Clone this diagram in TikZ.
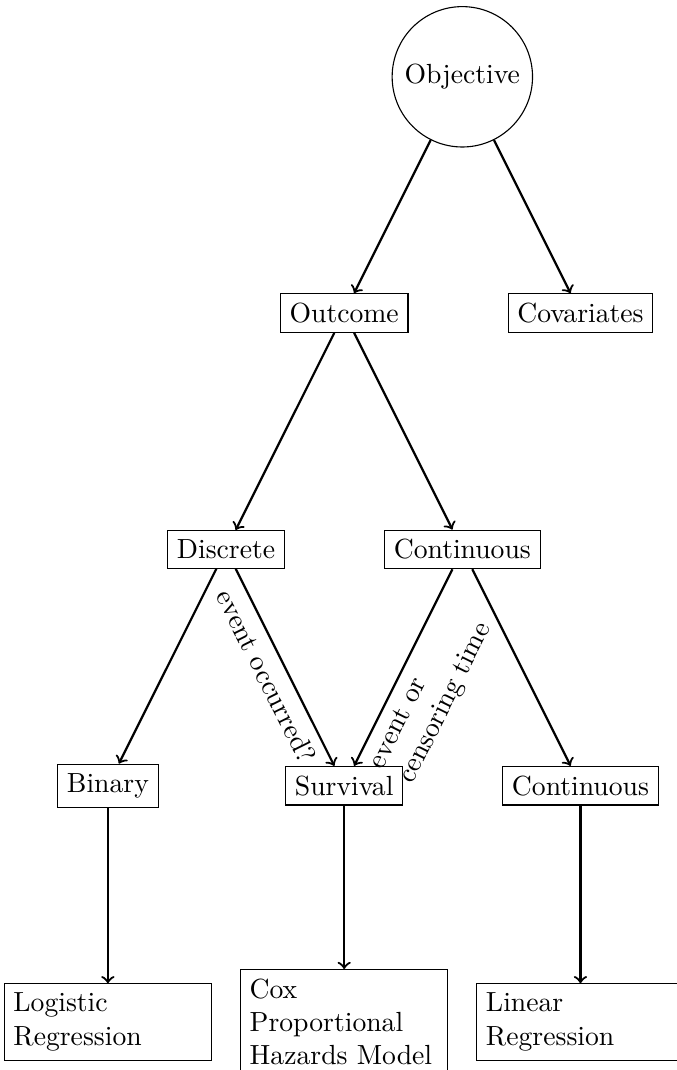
\documentclass[tikz,border=0pt]{standalone}
\usepackage{amsmath}
\usepackage{xcolor}
\usepackage{tikz}
\tikzstyle{basic arrow}=[thick, ->]
\tikzstyle{basic box}=[draw, rectangle]
\tikzstyle{basic circle}=[draw, circle]
\tikzstyle{model box}=[draw, rectangle, text width=2.4cm, align=left]

\begin{document}
\begin{tikzpicture}
		\useasboundingbox (-4.37, 0.975) rectangle (4.22, -12.61);

		\node [style=basic circle] (0) at (1.5, 0) {Objective};
		\node [style=basic box]    (1) at (0, -3) {Outcome};
		\node [style=basic box]    (2) at (3, -3) {Covariates};
		\node [style=basic box]    (3) at (-1.5, -6) {Discrete};
		\node [style=basic box]    (4) at (1.5, -6) {Continuous};
		\node [style=basic box]    (5) at (-3, -9) {Binary};
		\node [style=basic box]    (6) at (0, -9) {Survival};
		\node [style=basic box]    (7) at (3, -9) {Continuous};
		\node [style=model box]    (8) at (-3, -12) {Logistic\\Regression};
		\node [style=model box]    (9) at (0, -12) {Cox\\Proportional\\Hazards Model};
		\node [style=model box]    (10) at (3, -12) {Linear\\Regression};

		\draw [style=basic arrow] (0) to (1);
		\draw [style=basic arrow] (0) to (2);
		\draw [style=basic arrow] (1) to (3);
		\draw [style=basic arrow] (1) to (4);
		\draw [style=basic arrow] (3) to (5);
		\draw [style=basic arrow] (3) to node [sloped, below] {event occurred?} (6);
		\draw [style=basic arrow] (4) to node [sloped, below, pos=0.56, align=left] {event or\\censoring time} (6);
		\draw [style=basic arrow] (4) to (7);
		\draw [style=basic arrow] (5) to (8);
		\draw [style=basic arrow] (6) to (9);
		\draw [style=basic arrow] (7) to (10);

\end{tikzpicture}
\end{document}
